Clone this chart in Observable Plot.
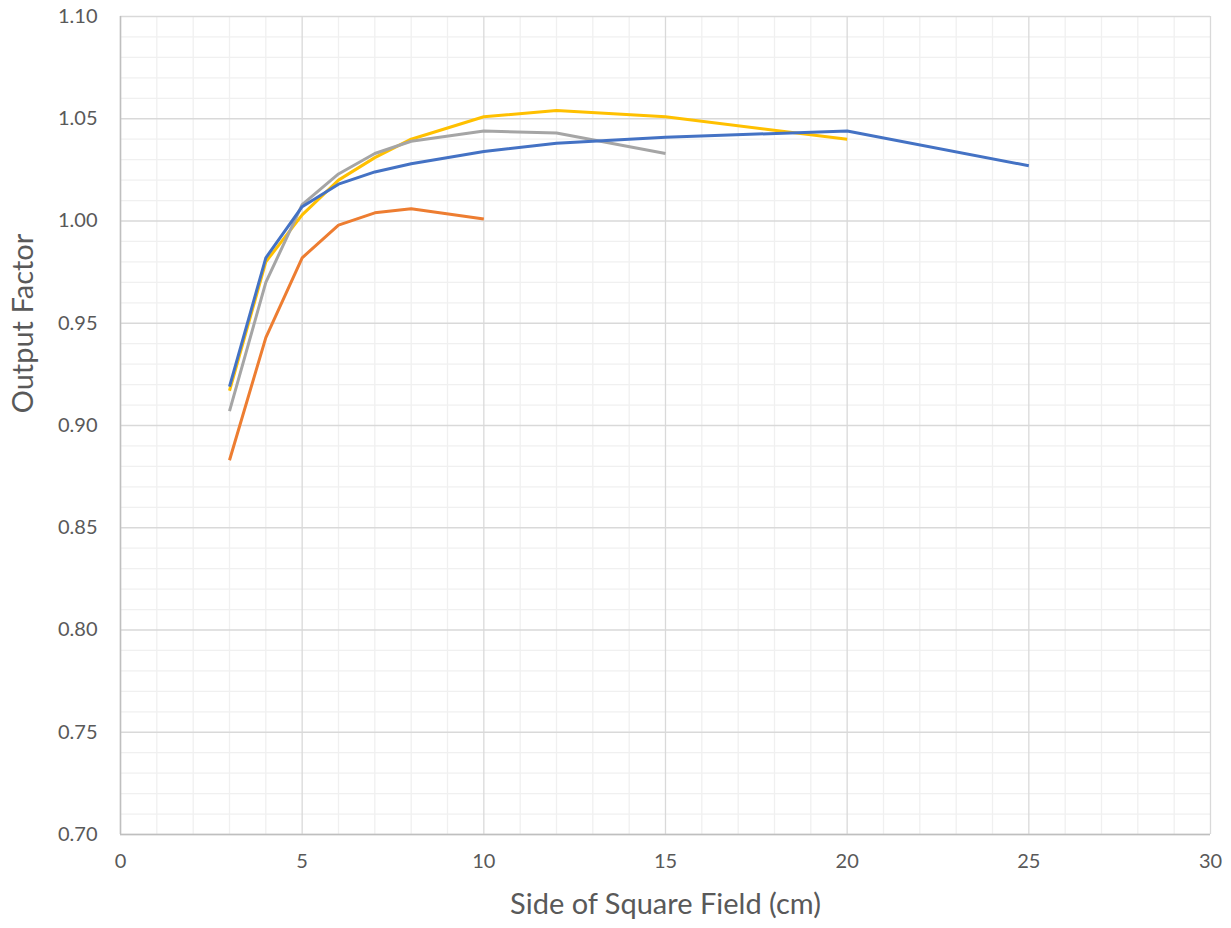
<!DOCTYPE html>
<html>
<head>
<meta charset="utf-8">
<script src="https://cdn.jsdelivr.net/npm/d3@7"></script>
<script src="https://cdn.jsdelivr.net/npm/@observablehq/plot@0.6"></script>
<style>
  html, body { margin: 0; padding: 0; background: #fff; }
  #chart svg { display: block; }
</style>
</head>
<body>
<div id="chart"></div>
<script>
// Field sizes (cm) and output factors per series
const blueX = [3, 4, 5, 6, 7, 8, 10, 12, 15, 20, 25];
const blueY = [0.919, 0.982, 1.007, 1.018, 1.024, 1.028, 1.034, 1.038, 1.041, 1.044, 1.027];
const orangeX = [3, 4, 5, 6, 7, 8, 10];
const orangeY = [0.883, 0.943, 0.982, 0.998, 1.004, 1.006, 1.001];
const grayX = [3, 4, 5, 6, 7, 8, 10, 12, 15];
const grayY = [0.907, 0.970, 1.008, 1.023, 1.033, 1.039, 1.044, 1.043, 1.033];
const yellowX = [3, 4, 5, 6, 7, 8, 10, 12, 15, 20];
const yellowY = [0.917, 0.980, 1.003, 1.020, 1.031, 1.040, 1.051, 1.054, 1.051, 1.040];

const xMajor = [0, 5, 10, 15, 20, 25, 30];
const yMajor = [0.70, 0.75, 0.80, 0.85, 0.90, 0.95, 1.00, 1.05, 1.10];
const xMinor = d3.range(0, 31, 1).filter(v => v % 5 !== 0);
const yMinor = d3.range(70, 111, 1).filter(v => v % 5 !== 0).map(v => v / 100);

const xTitle = "Side of Square Field (cm)";
const yTitle = "Output Factor";

const series = [
  {name: "Series 4", color: "#FFC000", xs: yellowX, ys: yellowY},
  {name: "Series 3", color: "#A5A5A5", xs: grayX, ys: grayY},
  {name: "Series 2", color: "#ED7D31", xs: orangeX, ys: orangeY},
  {name: "Series 1", color: "#4472C4", xs: blueX, ys: blueY}
];
const rows = series.flatMap(s => s.xs.map((x, i) => ({series: s.name, x, y: s.ys[i]})));

const font = "Lato, 'Open Sans', 'Liberation Sans', sans-serif";

const chart = Plot.plot({
  width: 1231,
  height: 928,
  marginLeft: 120,
  marginRight: 21,
  marginTop: 16,
  marginBottom: 94,
  style: {fontFamily: font, background: "#fff"},
  x: {domain: [0, 30]},
  y: {domain: [0.70, 1.10]},
  color: {type: "ordinal", domain: series.map(s => s.name), range: series.map(s => s.color)},
  marks: [
    Plot.ruleX(xMinor, {stroke: "#f0f0f0", strokeWidth: 1.3}),
    Plot.ruleY(yMinor, {stroke: "#f0f0f0", strokeWidth: 1.3}),
    Plot.ruleX(xMajor, {stroke: "#d9d9d9", strokeWidth: 1.3}),
    Plot.ruleY(yMajor, {stroke: "#d9d9d9", strokeWidth: 1.3}),
    Plot.ruleX([0], {stroke: "#bfbfbf", strokeWidth: 1.5}),
    Plot.ruleY([0.70], {stroke: "#bfbfbf", strokeWidth: 1.5}),
    Plot.line(rows, {x: "x", y: "y", z: "series", stroke: "series", strokeWidth: 3, strokeLinejoin: "round", strokeLinecap: "butt"}),
    Plot.axisX({ticks: xMajor, tickSize: 0, tickPadding: 19, fontSize: 20, color: "#595959", label: null}),
    Plot.axisY({ticks: yMajor, tickSize: 0, tickPadding: 23, fontSize: 20, color: "#595959", label: null, tickFormat: d3.format(".2f")}),
    Plot.text([xTitle], {frameAnchor: "bottom", textAnchor: "middle", lineAnchor: "middle", dy: 70, fontSize: 29, fill: "#595959", text: d => d}),
    Plot.text([yTitle], {frameAnchor: "left", textAnchor: "middle", lineAnchor: "middle", dx: -97, dy: -102, rotate: -90, fontSize: 29, fill: "#595959", text: d => d})
  ]
});
document.getElementById("chart").appendChild(chart);
</script>
</body>
</html>
